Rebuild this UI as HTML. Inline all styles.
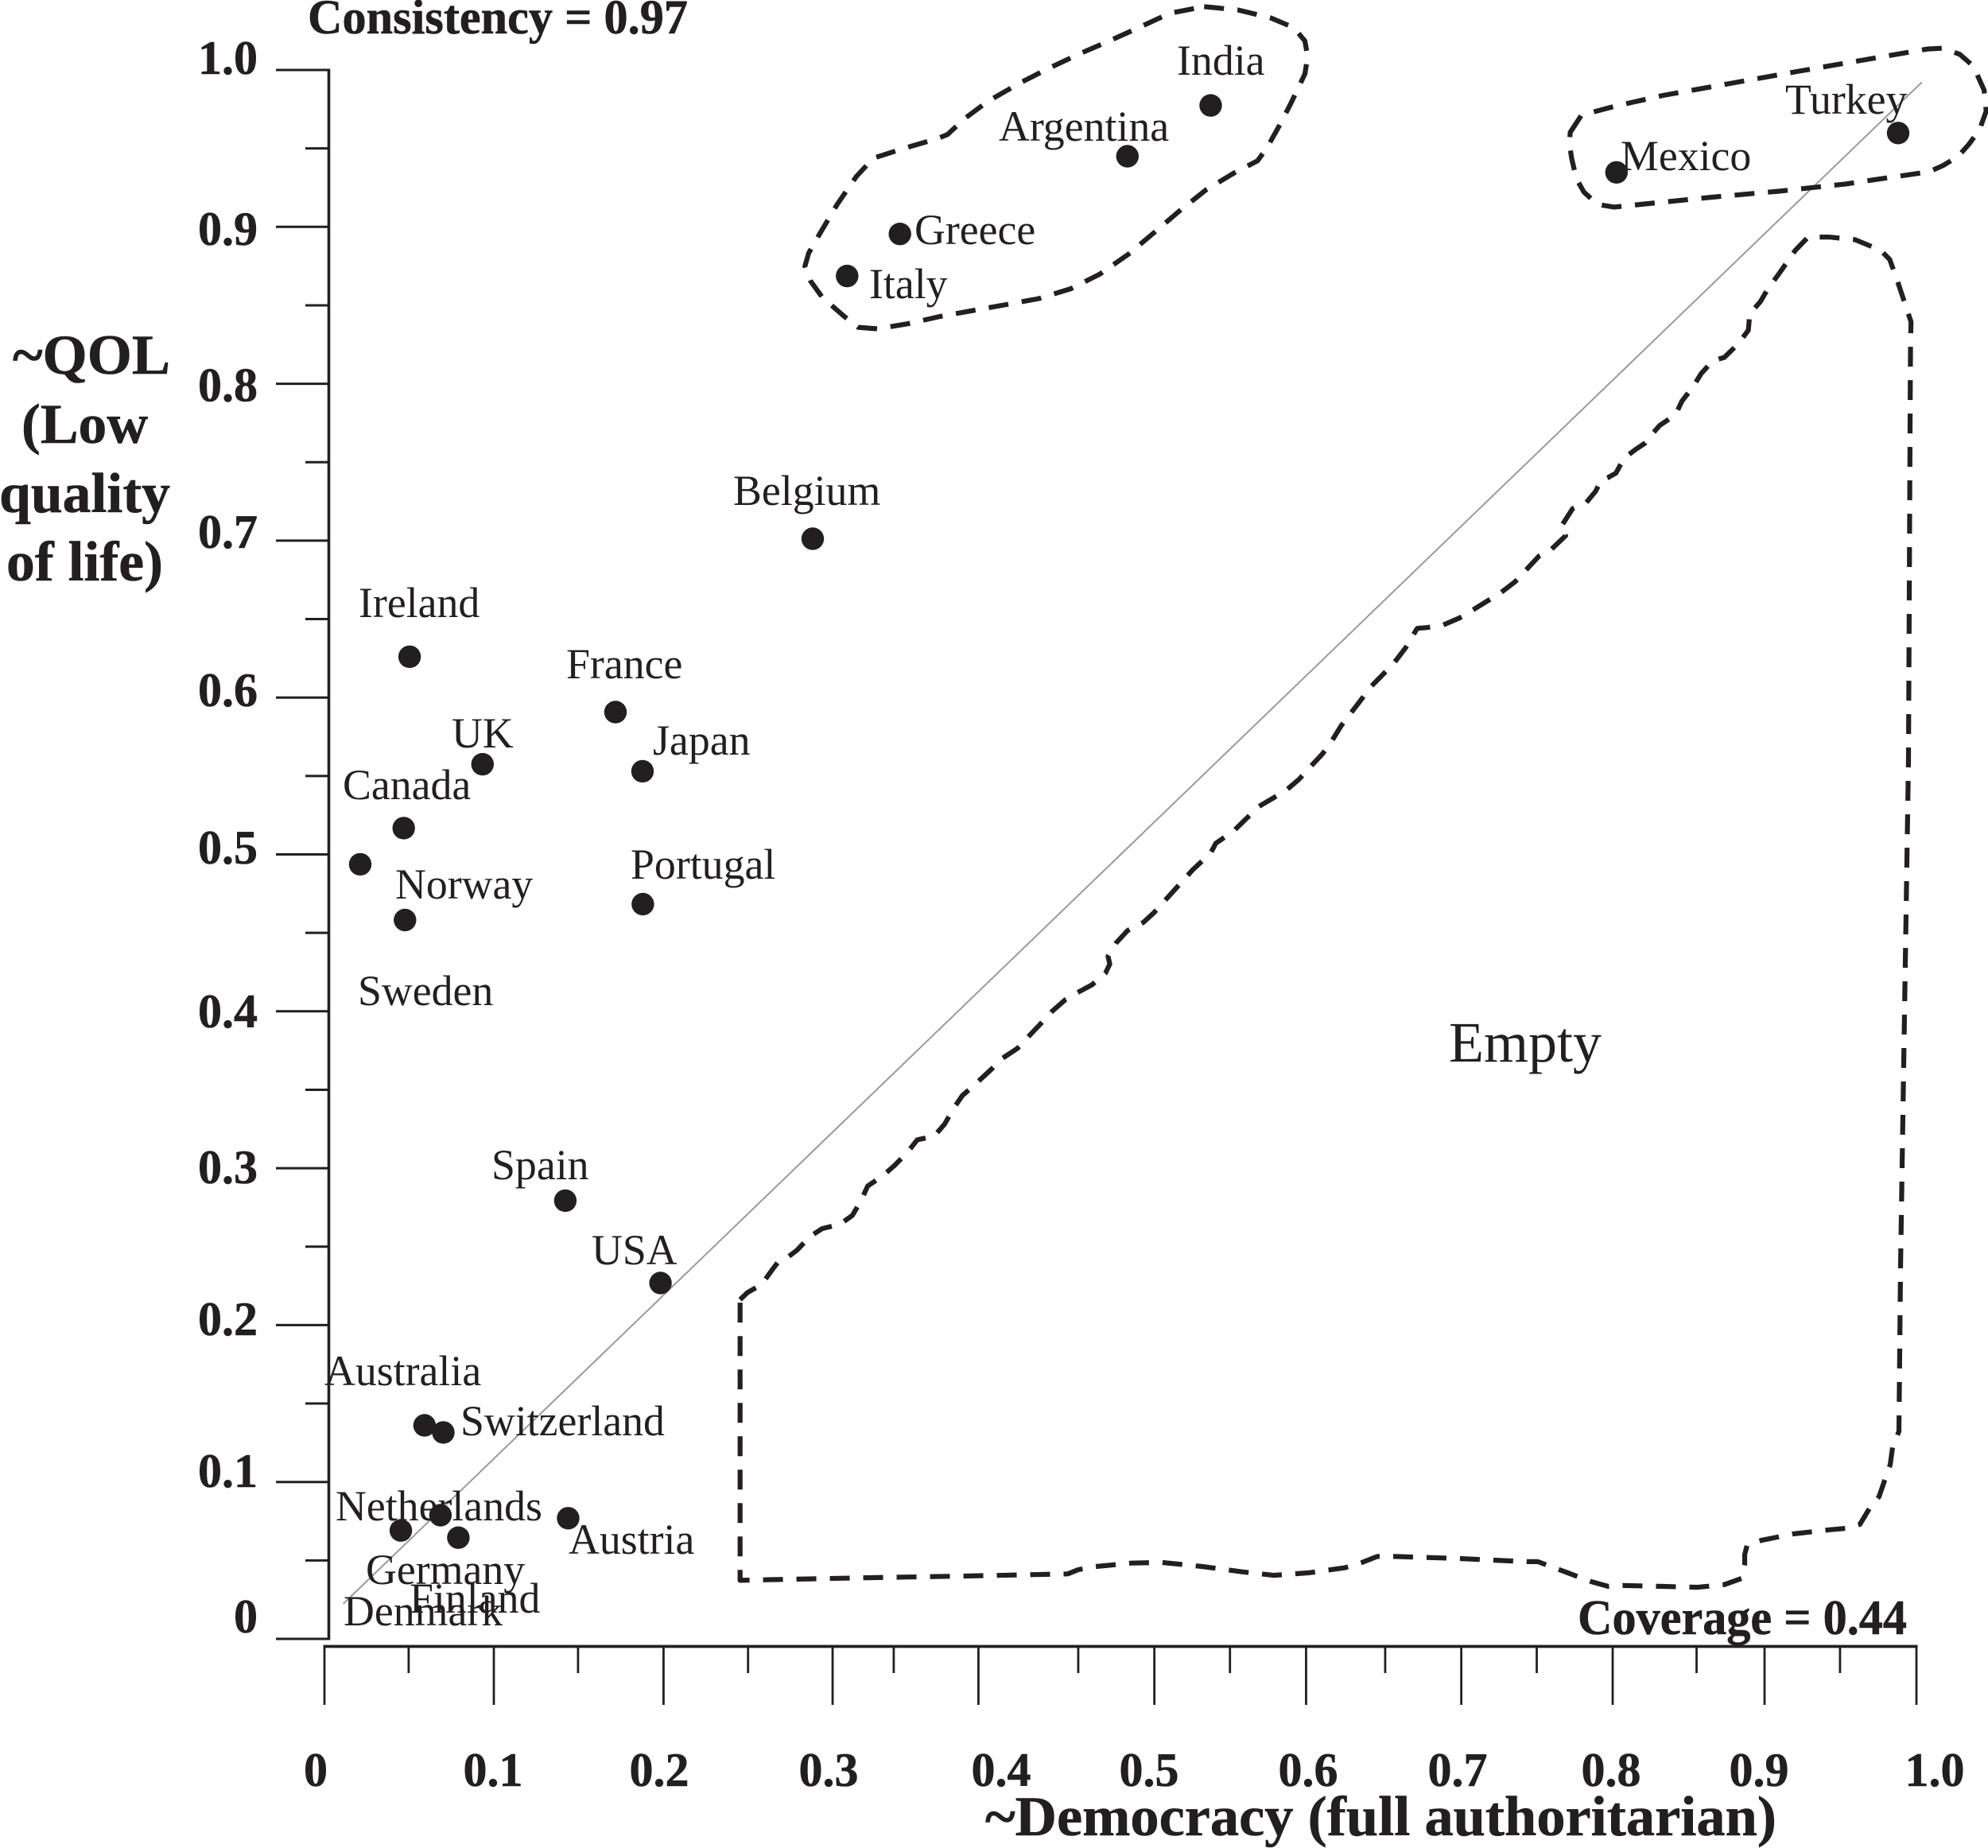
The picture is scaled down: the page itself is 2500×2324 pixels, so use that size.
<!DOCTYPE html>
<html lang="en">
<head>
<meta charset="utf-8">
<title>~Democracy vs ~QOL XY plot</title>
<style>
html,body{margin:0;padding:0;background:#fff;}
svg{display:block;}
text{font-family:"Liberation Serif","Times New Roman",serif;fill:#231f20;}
.country{font-size:53.8px;}
.bold{font-weight:bold;stroke:#231f20;stroke-width:0.6px;}
</style>
</head>
<body>
<svg id="chart" xmlns="http://www.w3.org/2000/svg" width="2500" height="2324" viewBox="0 0 2500 2324">
  <rect x="0" y="0" width="2500" height="2324" fill="#ffffff"/>
  <g id="axes"></g>
  <g id="regions"></g>
  <g id="dots"></g>

  <g>
    <text class="country" x="1480" y="94">India</text>
    <text class="country" x="1256" y="177">Argentina</text>
    <text class="country" x="1150" y="307">Greece</text>
    <text class="country" x="1093" y="375">Italy</text>
    <text class="country" x="2245" y="143">Turkey</text>
    <text class="country" x="2038" y="214">Mexico</text>
    <text class="country" x="922" y="635">Belgium</text>
    <text class="country" x="451" y="776">Ireland</text>
    <text class="country" x="712" y="853">France</text>
    <text class="country" x="568" y="940">UK</text>
    <text class="country" x="821" y="949">Japan</text>
    <text class="country" x="431" y="1005">Canada</text>
    <text class="country" x="793" y="1105">Portugal</text>
    <text class="country" x="497" y="1130">Norway</text>
    <text class="country" x="450" y="1264">Sweden</text>
    <text class="country" x="618" y="1483">Spain</text>
    <text class="country" x="744" y="1590">USA</text>
    <text class="country" x="408" y="1742">Australia</text>
    <text class="country" x="579" y="1805">Switzerland</text>
    <text class="country" x="422" y="1912">Netherlands</text>
    <text class="country" x="715" y="1954">Austria</text>
    <text class="country" x="460" y="1992">Germany</text>
    <text class="country" x="515" y="2028">Finland</text>
    <text class="country" x="432" y="2044">Denmark</text>
  </g>

  <text x="1822" y="1335" font-size="72">Empty</text>
  <text class="bold" x="387" y="42" font-size="61" textLength="478" lengthAdjust="spacingAndGlyphs">Consistency = 0.97</text>
  <text class="bold" x="1984" y="2055" font-size="62" textLength="414" lengthAdjust="spacingAndGlyphs">Coverage = 0.44</text>

  <g>
    <text class="bold" x="16" y="470" font-size="71" textLength="198" lengthAdjust="spacingAndGlyphs">~QOL</text>
    <text class="bold" x="27" y="557" font-size="71" textLength="159" lengthAdjust="spacingAndGlyphs">(Low</text>
    <text class="bold" x="-1" y="644" font-size="71" textLength="215" lengthAdjust="spacingAndGlyphs">quality</text>
    <text class="bold" x="8" y="730" font-size="71" textLength="197" lengthAdjust="spacingAndGlyphs">of life)</text>
  </g>
  <text class="bold" x="1239" y="2308" font-size="71" textLength="995" lengthAdjust="spacingAndGlyphs">~Democracy (full authoritarian)</text>
</svg>

<script>
const countries = ["India","Argentina","Greece","Italy","Turkey","Mexico","Belgium","Ireland","France","Japan","UK","Canada","Sweden","Norway","Portugal","Spain","USA","Australia","Switzerland","Netherlands","Germany","Finland","Austria"];
const democracyValues = [.5567,.5044,.3615,.3283,.9885,.8116,.3067,.0535,.1828,.1998,.0993,.0498,.0225,.0506,.2000,.1513,.2111,.0629,.0747,.0729,.0480,.0841,.1531];
const qolValues = [.9774,.9450,.8955,.8687,.9598,.9347,.7012,.6260,.5907,.5530,.5575,.5168,.4937,.4582,.4683,.2793,.2268,.1361,.1316,.0788,.0691,.0645,.0769];

const yMajorTicks = [0,.1,.2,.3,.4,.5,.6,.7,.8,.9,1];
const yMinorTicks = [.05,.15,.25,.35,.45,.55,.65,.75,.85,.95];
const yTickLabels = ["0","0.1","0.2","0.3","0.4","0.5","0.6","0.7","0.8","0.9","1.0"];
const yLabelAt = [.0142,.1069,.2037,.3005,.3999,.5043,.6047,.7055,.7990,.8987,1.0075];

const xMajorTicks = [0,.1064,.213,.3192,.4108,.5213,.6166,.7141,.8092,.9046,1];
const xMinorTicks = [.0529,.1593,.2661,.3576,.4735,.5688,.6663,.7615,.8619,.952];
const xTickLabels = ["0","0.1","0.2","0.3","0.4","0.5","0.6","0.7","0.8","0.9","1.0"];
const xLabelAt = [-.0055,.1059,.2103,.3167,.4251,.518,.6179,.7118,.8082,.9011,1.0115];

const diagonalX = [.0118,1.0034];
const diagonalY = [.0223,.9922];

const group1X = [.5526,.5741,.5944,.6088,.6159,.6176,.6159,.6112,.6064,.6004,.5921,.5861,.5717,.5538,.5371,.5216,.5048,.4869,.4690,.4487,.4284,.4069,.3866,.3663,.3472,.3352,.3257,.3125,.3054,.3018,.3042,.3113,.3221,.3340,.3448,.3627,.3854,.3914,.4021,.4165,.4368,.4547,.4738,.4929,.5132,.5311];
const group1Y = [1.0404,1.0382,1.0332,1.0270,1.0185,1.0085,.9975,.9875,.9774,.9656,.9505,.9421,.9345,.9236,.9102,.8967,.8824,.8698,.8606,.8543,.8505,.8466,.8429,.8382,.8350,.8360,.8436,.8554,.8654,.8749,.8833,.8959,.9143,.9320,.9438,.9496,.9564,.9589,.9690,.9799,.9917,1.0009,1.0101,1.0185,1.0278,1.0362];

const group2X = [.7825,.7896,.8102,.8408,.8829,.9249,.9651,1.0071,1.0167,1.0272,1.0358,1.0425,1.0438,1.0396,1.0329,1.0263,1.0167,1.0081,.9861,.9555,.9135,.8714,.8294,.8102,.7997,.7911,.7864,.7835,.7820];
const group2Y = [.9602,.9712,.9768,.9838,.9914,.9990,1.0061,1.0134,1.0139,1.0100,1.0024,.9872,.9737,.9619,.9526,.9450,.9391,.9352,.9319,.9273,.9227,.9189,.9146,.9126,.9143,.9222,.9307,.9433,.9526];

const emptyX = [.2611,.2658,.2747,.2814,.2848,.2892,.2970,.3048,.3126,.3238,.3316,.3372,.3412,.3505,.3579,.3662,.3724,.3829,.3896,.3951,.4007,.4096,.4192,.4259,.4353,.4420,.4498,.4565,.4654,.4732,.4821,.4906,.4933,.4922,.4973,.5045,.5145,.5211,.5455,.5566,.5599,.5711,.5867,.6039,.6123,.6190,.6268,.6324,.6387,.6514,.6570,.6714,.6793,.6864,.6926,.7027,.7127,.7212,.7390,.7480,.7629,.7707,.7796,.7762,.7840,.7925,.7985,.8019,.8064,.8113,.8164,.8243,.8297,.8331,.8387,.8487,.8527,.8599,.8648,.8721,.8793,.8877,.8944,.8953,.9019,.9068,.9135,.9240,.9320,.9450,.9613,.9775,.9832,.9880,.9938,.9966,.9963,.9961,.9950,.9925,.9900,.9890,.9850,.9835,.9803,.9765,.9705,.9645,.9560,.9441,.9226,.9026,.8936,.8921,.8921,.8901,.8791,.8626,.8382,.8157,.8062,.7957,.7757,.7622,.7555,.7343,.7133,.6726,.6613,.6518,.6409,.6184,.5962,.5769,.5514,.5260,.5070,.4845,.4735,.4670,.4051,.3412,.2742,.2611];
const emptyY = [.2162,.2208,.2260,.2355,.2400,.2418,.2479,.2563,.2615,.2642,.2699,.2796,.2886,.2950,.3015,.3101,.3181,.3203,.3282,.3380,.3463,.3543,.3633,.3701,.3764,.3837,.3920,.3995,.4074,.4120,.4169,.4244,.4301,.4350,.4436,.4515,.4567,.4629,.4903,.5007,.5071,.5149,.5304,.5407,.5480,.5555,.5640,.5717,.5821,.5989,.6066,.6214,.6320,.6441,.6446,.6462,.6506,.6557,.6669,.6739,.6901,.6945,.7031,.7080,.7204,.7242,.7315,.7385,.7403,.7431,.7527,.7586,.7623,.7669,.7734,.7803,.7889,.7984,.8065,.8147,.8168,.8251,.8341,.8446,.8522,.8606,.8699,.8851,.8935,.8935,.8919,.8851,.8792,.8657,.8480,.8395,.8252,.7931,.5596,.3984,.2367,.1323,.1221,.1110,.1019,.0907,.0831,.0730,.0705,.0694,.0669,.0628,.0595,.0537,.0476,.0385,.0345,.0329,.0335,.0340,.0335,.0365,.0441,.0492,.0492,.0502,.0512,.0525,.0525,.0487,.0453,.0421,.0405,.0427,.0461,.0487,.0483,.0461,.0441,.0414,.0401,.0390,.0376,.0373];

const NS = "http://www.w3.org/2000/svg";
const INK = "#231f20";
function xScale(v){ return 408 + 2002 * v; }
function yScale(v){ return 2061 - 1973 * v; }
function pathFrom(xs, ys, close){
  let d = "";
  for (let i = 0; i < xs.length; i++) {
    d += (i ? "L" : "M") + xScale(xs[i]).toFixed(1) + " " + yScale(ys[i]).toFixed(1);
  }
  return d + (close ? "Z" : "");
}
function addLine(parent, x1, y1, x2, y2, width, color){
  const l = document.createElementNS(NS, "line");
  l.setAttribute("x1", x1);
  l.setAttribute("y1", y1);
  l.setAttribute("x2", x2);
  l.setAttribute("y2", y2);
  l.setAttribute("stroke", color);
  l.setAttribute("stroke-width", width);
  parent.appendChild(l);
  return l;
}
function addText(parent, x, y, str, anchor){
  const t = document.createElementNS(NS, "text");
  t.setAttribute("x", x);
  t.setAttribute("y", y);
  t.setAttribute("font-size", "60");
  t.setAttribute("font-weight", "bold");
  t.setAttribute("stroke", INK);
  t.setAttribute("stroke-width", "0.6");
  t.setAttribute("text-anchor", anchor);
  t.textContent = str;
  parent.appendChild(t);
  return t;
}

const axes = document.getElementById("axes");
const regions = document.getElementById("regions");
const dots = document.getElementById("dots");

// y axis
const yAxisLine = addLine(axes, 413.5, yScale(1) - 1.5, 413.5, yScale(0) + 1.5, 3.6, INK);


yMajorTicks.forEach(function(v){
  const t = addLine(axes, 347, yScale(v), 413, yScale(v), 3, INK);
  
  
});
yMinorTicks.forEach(function(v){
  const t = addLine(axes, 384, yScale(v), 413, yScale(v), 3, INK);
  
  
});
yTickLabels.forEach(function(s, i){
  const t = addText(axes, 324, yScale(yLabelAt[i]) + 20, s, "end");
  
  
});

// x axis
const xAxisLine = addLine(axes, xScale(0) - 1.5, 2070.5, xScale(1) + 1.5, 2070.5, 3.8, INK);


xMajorTicks.forEach(function(v){
  const t = addLine(axes, xScale(v), 2070, xScale(v), 2144, 2.8, INK);
  
  
});
xMinorTicks.forEach(function(v){
  const t = addLine(axes, xScale(v), 2070, xScale(v), 2104, 2.8, INK);
  
  
});
xTickLabels.forEach(function(s, i){
  const t = addText(axes, xScale(xLabelAt[i]), 2246, s, "middle");
  
  
});

// consistency diagonal
const diagonal = addLine(regions, xScale(diagonalX[0]), yScale(diagonalY[0]), xScale(diagonalX[1]), yScale(diagonalY[1]), 2, "#9a9a9a");



// dashed outlines
function addRegion(xs, ys){
  const p = document.createElementNS(NS, "path");
  p.setAttribute("d", pathFrom(xs, ys, true));
  p.setAttribute("fill", "none");
  p.setAttribute("stroke", INK);
  p.setAttribute("stroke-width", "6.2");
  p.setAttribute("stroke-dasharray", "25 17");
  p.setAttribute("stroke-linejoin", "round");
  regions.appendChild(p);
  return p;
}
const region1 = addRegion(group1X, group1Y);


const region2 = addRegion(group2X, group2Y);


const region3 = addRegion(emptyX, emptyY);



// points
countries.forEach(function(name, i){
  const c = document.createElementNS(NS, "circle");
  c.setAttribute("cx", xScale(democracyValues[i]).toFixed(1));
  c.setAttribute("cy", yScale(qolValues[i]).toFixed(1));
  c.setAttribute("r", "14.2");
  c.setAttribute("fill", INK);
  
  
  dots.appendChild(c);
});
</script>
</body>
</html>
